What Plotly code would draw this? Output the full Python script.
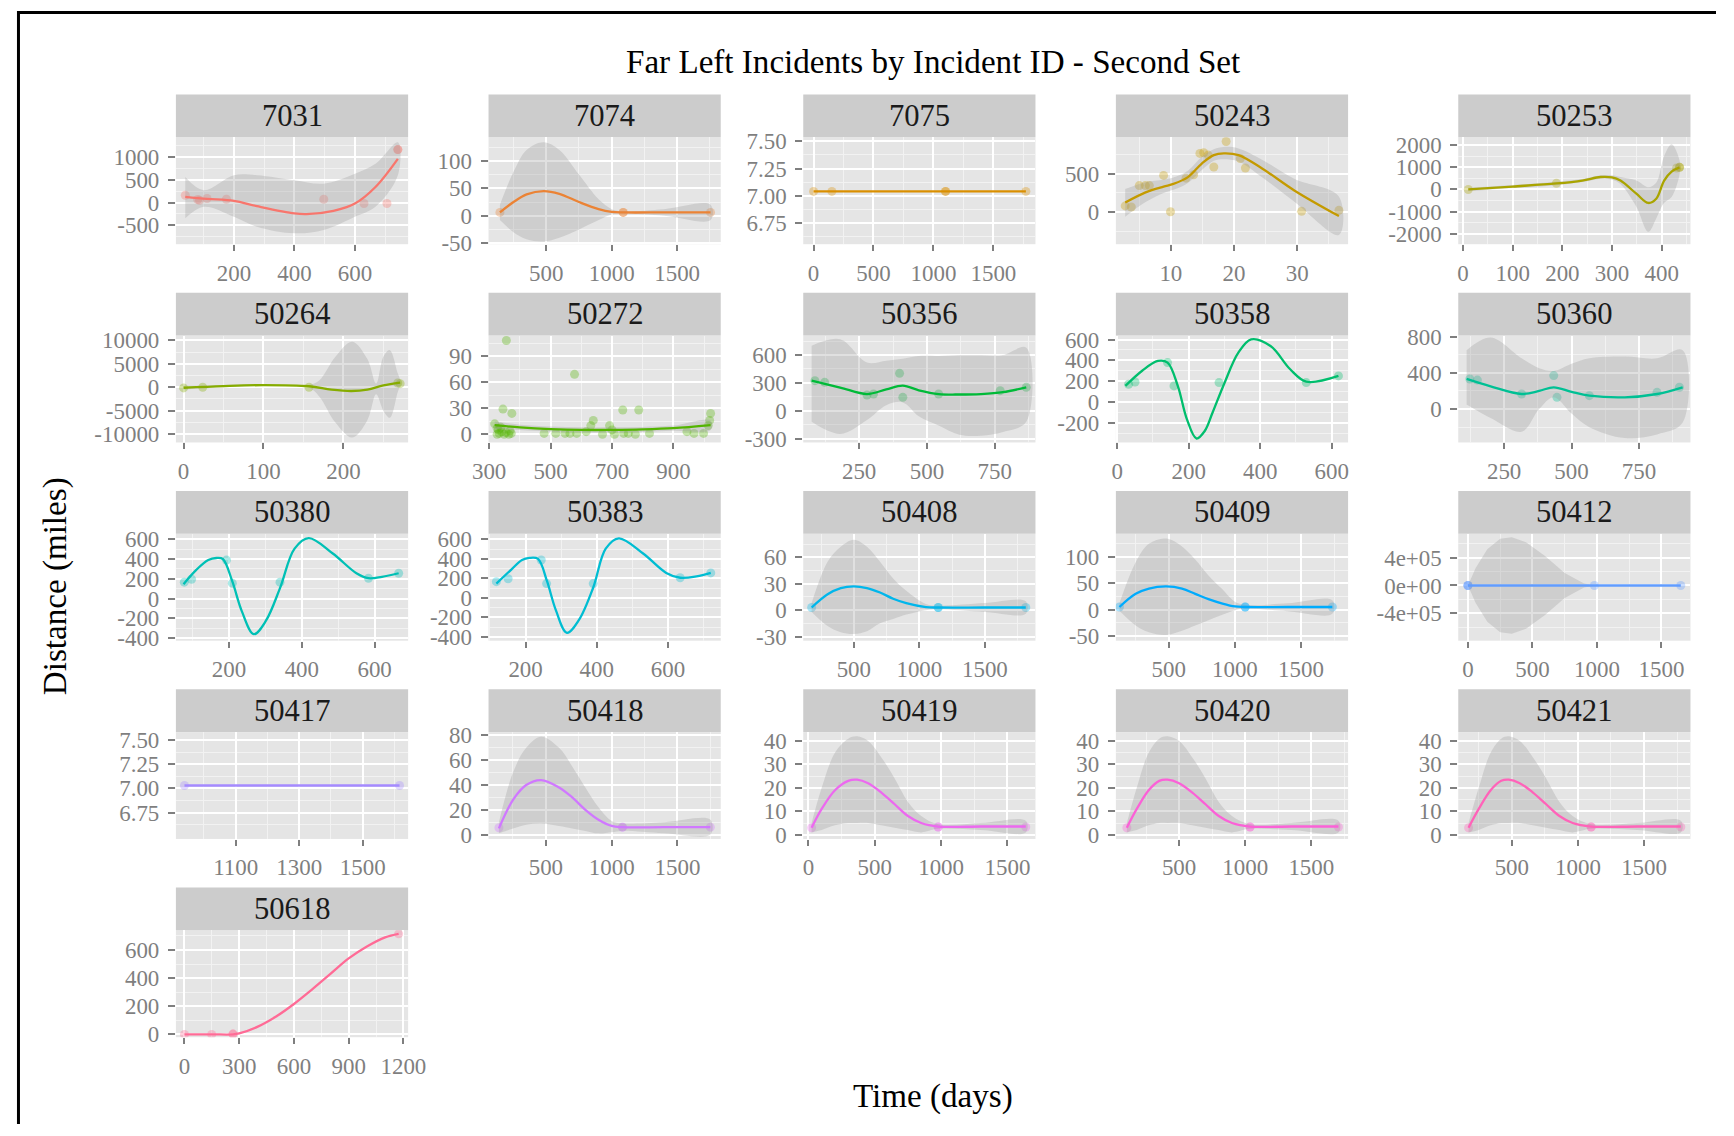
import math
import plotly.graph_objects as go

W, H = 1734, 1136

incident_ids = ["7031", "7074", "7075", "50243", "50253", "50264", "50272", "50356",
                "50358", "50360", "50380", "50383", "50408", "50409", "50412", "50417",
                "50418", "50419", "50420", "50421", "50618"]

# ---------------- 7031
pts_7031_t = [39, 80, 86, 111, 175, 497, 630, 706, 742, 742]
pts_7031_d = [160, 66, 51, 88, 73, 73, -22, -22, 1168, 1168]
fit_7031_t = [39, 111, 200, 276, 400, 440, 529, 600, 668, 742]
fit_7031_d = [124, 80, 36, -80, -240, -255, -182, -22, 343, 964]
band_7031_t = [39, 100, 200, 276, 400, 497, 600, 668, 742]
band_7031_hi = [562, 270, 600, 600, 490, 416, 635, 854, 1330]
band_7031_lo = [-350, -95, -314, -533, -679, -606, -314, -95, 600]

# ---------------- 7074
pts_7074_t = [146, 1088, 1088, 1755]
pts_7074_d = [6, 6, 6, 6]
fit_7074_t = [146, 250, 350, 480, 600, 750, 900, 1000, 1088, 1400, 1755]
fit_7074_d = [6, 25, 39, 45, 40, 25, 12, 7, 6, 6, 6]
band_7074_hi = [20, 80, 120, 134, 120, 75, 30, 12, 8, 12, 20]
band_7074_lo = [-8, -30, -43, -47, -40, -25, -8, 2, 4, 0, -8]

# ---------------- 7075
pts_7075_t = [0, 153, 1101, 1101, 1771]
pts_7075_d = [7.04, 7.04, 7.04, 7.04, 7.04]
fit_7075_t = [0, 1771]
fit_7075_d = [7.04, 7.04]

# ---------------- 50243
pts_50243_t = [2.78, 3.74, 5.0, 5.97, 6.6, 8.85, 9.94, 12.4, 13.6, 14.6, 15.2, 15.9, 16.8, 18.75, 21.0, 21.8, 30.7, 36.6]
pts_50243_d = [80, 66, 345, 345, 345, 478, 4, 442, 487, 765, 774, 743, 588, 920, 699, 575, 9, 22]
fit_50243_t = [2.78, 6, 8.85, 10.4, 12.7, 14.9, 16.8, 18.4, 20.7, 24.5, 29.6, 36.6]
fit_50243_d = [124, 257, 332, 367, 456, 633, 743, 765, 743, 566, 279, -53]
band_50243_hi = [300, 390, 420, 450, 540, 720, 820, 850, 830, 680, 430, 200]
band_50243_lo = [-60, 130, 250, 290, 380, 550, 670, 690, 660, 450, 130, -300]

# ---------------- 50253
pts_50253_t = [10.5, 188, 430, 436, 436]
pts_50253_d = [0, 281, 963, 993, 993]
fit_50253_t = [10.5, 100, 188, 240, 277, 300, 317, 349, 373, 389, 405, 420, 436]
fit_50253_d = [0, 130, 270, 400, 560, 540, 400, -190, -607, -415, 400, 800, 990]
band_50253_hi = [80, 200, 350, 470, 640, 640, 560, 400, 100, 300, 1500, 2030, 1300]
band_50253_lo = [-80, 60, 190, 330, 480, 440, 240, -780, -1900, -1300, -600, -340, 680]

# ---------------- 50264
pts_50264_t = [0, 24, 157, 268, 271]
pts_50264_d = [-140, 0, 0, 912, 770]
fit_50264_t = [0, 50, 100, 157, 185, 210, 230, 250, 271]
fit_50264_d = [-100, 250, 450, 210, -500, -800, -500, 400, 1000]
band_50264_t = [0, 50, 100, 157, 170, 190, 211, 230, 241, 250, 258, 268, 271]
band_50264_hi = [300, 500, 650, 500, 1500, 6500, 9700, 6000, 800, 6500, 7900, 3000, 1500]
band_50264_lo = [-500, 0, 250, -100, -2000, -7500, -10700, -7000, -1500, -5000, -6500, -1000, 500]

# ---------------- 50272
pts_50272_t = [318, 326, 326, 333, 341, 349, 364, 372, 345, 356, 374, 479, 517, 547, 563, 578, 585,
               616, 631, 639, 669, 692, 700, 708, 735, 738, 753, 776, 787, 822, 944, 967, 998, 1013,
               1018, 1021, 330, 338, 355, 368]
pts_50272_d = [12, 7, 0, 1, 3, 0, 0, 1, 29, 108, 24, 1, 1, 1, 1, 69, 1,
               3, 10, 16, 0, 10, 5, 0, 28, 1, 1, 0, 28, 1, 3, 1, 1, 10,
               16, 24, 5, 8, 2, 4]
fit_50272_t = [318, 400, 500, 600, 700, 800, 900, 1021]
fit_50272_d = [10.5, 8, 6, 5, 5, 5.6, 7, 10.5]
band_50272_hi = [15, 11, 9, 8, 8, 8.5, 10, 16]
band_50272_lo = [6, 5, 3, 2, 2, 2.7, 4, 5]

# ---------------- 50356
pts_50356_t = [87, 123, 279, 303, 399, 411, 543, 770, 866]
pts_50356_d = [324, 306, 169, 180, 403, 144, 180, 216, 252]
fit_50356_t = [75, 180, 279, 350, 411, 470, 543, 620, 699, 780, 866]
fit_50356_d = [324, 250, 180, 230, 270, 220, 180, 175, 180, 200, 252]
band_50356_hi = [700, 770, 520, 540, 560, 590, 590, 600, 600, 600, 680]
band_50356_lo = [-120, -250, -100, 60, 90, -60, -160, -260, -270, -230, -120]

# ---------------- 50358
pts_50358_t = [32, 50, 141, 159, 285, 529, 619]
pts_50358_d = [170, 192, 378, 154, 186, 186, 250]
fit_50358_t = [23, 70, 114, 141, 170, 195, 222, 245, 267, 300, 339, 375, 429, 484, 529, 619]
fit_50358_d = [154, 300, 394, 378, 150, -166, -352, -280, -102, 180, 474, 602, 538, 314, 195, 250]

# ---------------- 50360
pts_50360_t = [123, 151, 315, 434, 446, 566, 817, 900]
pts_50360_d = [332, 320, 166, 369, 129, 148, 184, 240]
fit_50360_t = [111, 200, 315, 380, 434, 500, 566, 697, 817, 912]
fit_50360_d = [332, 250, 166, 200, 240, 190, 148, 129, 166, 240]
band_50360_hi = [650, 790, 560, 450, 420, 500, 560, 580, 560, 650]
band_50360_lo = [50, -100, -250, 0, 130, -50, -200, -320, -280, -150]

# ---------------- 50380
pts_50380_t = [77, 97, 193, 209, 340, 583, 666]
pts_50380_d = [166, 196, 389, 156, 166, 206, 256]
fit_50380_t = [75, 110, 143, 165, 183, 209, 235, 268, 301, 340, 380, 419, 485, 550, 583, 620, 666]
fit_50380_d = [146, 290, 389, 410, 400, 173, -126, -359, -226, 106, 505, 611, 455, 256, 206, 220, 256]

# ---------------- 50383
pts_50383_t = [118, 151, 244, 259, 390, 634, 720]
pts_50383_d = [166, 196, 389, 146, 146, 206, 256]
fit_50383_t = [118, 160, 190, 211, 235, 260, 285, 316, 350, 390, 425, 462, 530, 595, 634, 680, 720]
fit_50383_d = [146, 290, 389, 410, 400, 173, -126, -359, -226, 106, 505, 611, 455, 256, 206, 220, 256]

# ---------------- 50408
pts_50408_t = [178, 1144, 1144, 1812]
pts_50408_d = [3, 3, 3, 3]
fit_50408_t = [178, 300, 400, 500, 600, 700, 800, 900, 1050, 1144, 1500, 1812]
fit_50408_d = [3, 18, 25, 27, 25, 20, 13, 8, 3.5, 3, 3, 3]
band_50408_hi = [8, 55, 72, 80, 72, 55, 36, 22, 7, 5, 8, 10]
band_50408_lo = [-2, -18, -25, -27, -24, -15, -10, -5, 0, 1, -2, -4]

# ---------------- 50409
pts_50409_t = [127, 1078, 1078, 1737]
pts_50409_d = [5, 5, 5, 5]
fit_50409_t = [127, 250, 350, 480, 600, 700, 800, 900, 1000, 1078, 1400, 1737]
fit_50409_d = [5, 30, 40, 44, 40, 30, 20, 12, 6, 5, 5, 5]
band_50409_hi = [12, 90, 125, 135, 120, 95, 65, 40, 15, 9, 12, 18]
band_50409_lo = [-2, -30, -43, -48, -40, -30, -20, -10, -1, 2, -3, -8]

# ---------------- 50412
pts_50412_t = [0, 0, 0, 980, 1650]
pts_50412_d = [0, 0, 0, 0, 0]
fit_50412_t = [0, 980, 1650]
fit_50412_d = [0, 0, 0]
band_50412_t = [0, 60, 150, 250, 340, 450, 600, 750, 900, 980, 1650]
band_50412_hi = [0, 250000, 520000, 670000, 690000, 620000, 420000, 180000, 30000, 5000, 5000]
band_50412_lo = [0, -250000, -520000, -670000, -690000, -620000, -420000, -180000, -30000, -5000, -5000]

# ---------------- 50417
pts_50417_t = [939, 1616]
pts_50417_d = [7.03, 7.03]
fit_50417_t = [939, 1616]
fit_50417_d = [7.03, 7.03]

# ---------------- 50418
pts_50418_t = [143, 1082, 1082, 1750]
pts_50418_d = [5.5, 6, 6, 6]
fit_50418_t = [143, 250, 350, 464, 600, 700, 800, 900, 1000, 1082, 1400, 1750]
fit_50418_d = [5, 28, 40, 44, 38, 30, 20, 12, 7, 6, 6, 6]
band_50418_hi = [10, 50, 70, 79, 70, 55, 38, 22, 11, 9, 10, 12]
band_50418_lo = [1, 5, 8, 9, 7, 5, 3, 1, 2, 3, 1, 0]

# ---------------- 50419 / 50420 / 50421
pts_50419_t = [24, 978, 978, 1638]
pts_50420_t = [105, 1037, 1037, 1705]
pts_50421_t = [173, 1100, 1100, 1778]
pts_5042x_d = [3, 3.3, 3.3, 3.3]
fit_50419_t = [24, 100, 200, 300, 367, 450, 550, 650, 750, 850, 978, 1300, 1638]
fit_50420_t = [105, 180, 270, 350, 412, 500, 600, 700, 800, 900, 1037, 1350, 1705]
fit_50421_t = [173, 250, 340, 420, 476, 560, 660, 760, 860, 960, 1100, 1450, 1778]
fit_5042x_d = [3, 11, 19, 23, 23.5, 22, 18, 13, 8, 5, 3.5, 3.5, 3.5]
band_5042x_hi = [5, 20, 35, 41, 42, 40, 33, 24, 14, 8, 4.5, 5, 6]
band_5042x_lo = [1, 2, 4, 5, 5, 5, 4, 3, 2, 1, 2.5, 2, 1]

# ---------------- 50618
pts_50618_t = [0, 149, 266, 266, 1174]
pts_50618_d = [0, 0, 2, 2, 715]
fit_50618_t = [0, 150, 266, 300, 402, 500, 600, 700, 800, 900, 1000, 1100, 1174]
fit_50618_d = [0, 0, 0, 7, 55, 125, 216, 320, 430, 540, 625, 690, 715]

# ---------------- axis tick labels per panel
xticks = {
    "7031": [200, 400, 600], "7074": [500, 1000, 1500], "7075": [0, 500, 1000, 1500],
    "50243": [10, 20, 30], "50253": [0, 100, 200, 300, 400], "50264": [0, 100, 200],
    "50272": [300, 500, 700, 900], "50356": [250, 500, 750], "50358": [0, 200, 400, 600],
    "50360": [250, 500, 750], "50380": [200, 400, 600], "50383": [200, 400, 600],
    "50408": [500, 1000, 1500], "50409": [500, 1000, 1500], "50412": [0, 500, 1000, 1500],
    "50417": [1100, 1300, 1500], "50418": [500, 1000, 1500], "50419": [0, 500, 1000, 1500],
    "50420": [500, 1000, 1500], "50421": [500, 1000, 1500], "50618": [0, 300, 600, 900, 1200],
}
yticks = {
    "7031": [-500, 0, 500, 1000], "7074": [-50, 0, 50, 100], "7075": [6.75, 7.0, 7.25, 7.5],
    "50243": [0, 500], "50253": [-2000, -1000, 0, 1000, 2000],
    "50264": [-10000, -5000, 0, 5000, 10000], "50272": [0, 30, 60, 90],
    "50356": [-300, 0, 300, 600], "50358": [-200, 0, 200, 400, 600], "50360": [0, 400, 800],
    "50380": [-400, -200, 0, 200, 400, 600], "50383": [-400, -200, 0, 200, 400, 600],
    "50408": [-30, 0, 30, 60], "50409": [-50, 0, 50, 100], "50412": [-400000, 0, 400000],
    "50417": [6.75, 7.0, 7.25, 7.5], "50418": [0, 20, 40, 60, 80], "50419": [0, 10, 20, 30, 40],
    "50420": [0, 10, 20, 30, 40], "50421": [0, 10, 20, 30, 40], "50618": [0, 200, 400, 600],
}
ytick_text_special = {
    "7075": ["6.75", "7.00", "7.25", "7.50"],
    "50417": ["6.75", "7.00", "7.25", "7.50"],
    "50412": ["-4e+05", "0e+00", "4e+05"],
}

# axis ranges (layout)
xranges = {
    "7031": [8, 776], "7074": [59, 1833], "7075": [-86, 1851], "50243": [1.3, 38.05],
    "50253": [-9.7, 458], "50264": [-9.6, 281], "50272": [298, 1054], "50356": [44, 900],
    "50358": [-3.6, 646], "50360": [80, 941], "50380": [54, 692], "50383": [96, 748],
    "50408": [114, 1886], "50409": [100, 1856], "50412": [-75, 1725], "50417": [912, 1643],
    "50418": [64, 1829], "50419": [-39, 1711], "50420": [22, 1778], "50421": [95, 1851],
    "50618": [-47, 1226],
}
yranges = {
    "7031": [-920, 1438], "7074": [-52, 143], "7075": [6.555, 7.537], "50243": [-420, 975],
    "50253": [-2459, 2341], "50264": [-11750, 11000], "50272": [-9.4, 113.6],
    "50356": [-342, 810], "50358": [-390, 638], "50360": [-369, 811], "50380": [-425, 654],
    "50383": [-440, 657], "50408": [-34.7, 86.7], "50409": [-59, 144],
    "50412": [-790000, 739000], "50417": [6.48, 7.58], "50418": [-3.5, 82.7],
    "50419": [-1.8, 43.8], "50420": [-1.8, 43.8], "50421": [-1.8, 43.8], "50618": [-20, 740],
}

panels = {
    "7031": (pts_7031_t, pts_7031_d, fit_7031_t, fit_7031_d, band_7031_t, band_7031_lo, band_7031_hi),
    "7074": (pts_7074_t, pts_7074_d, fit_7074_t, fit_7074_d, fit_7074_t, band_7074_lo, band_7074_hi),
    "7075": (pts_7075_t, pts_7075_d, fit_7075_t, fit_7075_d, None, None, None),
    "50243": (pts_50243_t, pts_50243_d, fit_50243_t, fit_50243_d, fit_50243_t, band_50243_lo, band_50243_hi),
    "50253": (pts_50253_t, pts_50253_d, fit_50253_t, fit_50253_d, fit_50253_t, band_50253_lo, band_50253_hi),
    "50264": (pts_50264_t, pts_50264_d, fit_50264_t, fit_50264_d, band_50264_t, band_50264_lo, band_50264_hi),
    "50272": (pts_50272_t, pts_50272_d, fit_50272_t, fit_50272_d, fit_50272_t, band_50272_lo, band_50272_hi),
    "50356": (pts_50356_t, pts_50356_d, fit_50356_t, fit_50356_d, fit_50356_t, band_50356_lo, band_50356_hi),
    "50358": (pts_50358_t, pts_50358_d, fit_50358_t, fit_50358_d, None, None, None),
    "50360": (pts_50360_t, pts_50360_d, fit_50360_t, fit_50360_d, fit_50360_t, band_50360_lo, band_50360_hi),
    "50380": (pts_50380_t, pts_50380_d, fit_50380_t, fit_50380_d, None, None, None),
    "50383": (pts_50383_t, pts_50383_d, fit_50383_t, fit_50383_d, None, None, None),
    "50408": (pts_50408_t, pts_50408_d, fit_50408_t, fit_50408_d, fit_50408_t, band_50408_lo, band_50408_hi),
    "50409": (pts_50409_t, pts_50409_d, fit_50409_t, fit_50409_d, fit_50409_t, band_50409_lo, band_50409_hi),
    "50412": (pts_50412_t, pts_50412_d, fit_50412_t, fit_50412_d, band_50412_t, band_50412_lo, band_50412_hi),
    "50417": (pts_50417_t, pts_50417_d, fit_50417_t, fit_50417_d, None, None, None),
    "50418": (pts_50418_t, pts_50418_d, fit_50418_t, fit_50418_d, fit_50418_t, band_50418_lo, band_50418_hi),
    "50419": (pts_50419_t, pts_5042x_d, fit_50419_t, fit_5042x_d, fit_50419_t, band_5042x_lo, band_5042x_hi),
    "50420": (pts_50420_t, pts_5042x_d, fit_50420_t, fit_5042x_d, fit_50420_t, band_5042x_lo, band_5042x_hi),
    "50421": (pts_50421_t, pts_5042x_d, fit_50421_t, fit_5042x_d, fit_50421_t, band_5042x_lo, band_5042x_hi),
    "50618": (pts_50618_t, pts_50618_d, fit_50618_t, fit_50618_d, None, None, None),
}
straight = {"7075", "50417", "50412"}


def hue_color(h, c=100.0, l=65.0):
    Xn, Yn, Zn = 95.047, 100.0, 108.883
    den = Xn + 15 * Yn + 3 * Zn
    un, vn = 4 * Xn / den, 9 * Yn / den
    Y = Yn * ((l + 16) / 116) ** 3
    u, v = c * math.cos(math.radians(h)), c * math.sin(math.radians(h))
    up, vp = u / (13 * l) + un, v / (13 * l) + vn
    X = Y * 9 * up / (4 * vp)
    Z = Y * (12 - 3 * up - 20 * vp) / (4 * vp)
    X, Y, Z = X / 100, Y / 100, Z / 100
    rgb = [3.240479 * X - 1.537150 * Y - 0.498535 * Z,
           -0.969256 * X + 1.875992 * Y + 0.041556 * Z,
           0.055648 * X - 0.204043 * Y + 1.057311 * Z]
    out = []
    for t in rgb:
        t = 1.055 * t ** (1 / 2.4) - 0.055 if t > 0.0031308 else 12.92 * t
        out.append(int(round(255 * min(max(t, 0.0), 1.0))))
    return "rgb(%d,%d,%d)" % tuple(out)


def minor_vals(ticks, rng):
    step = ticks[1] - ticks[0]
    m = ticks[0] - step / 2
    while m - step >= rng[0]:
        m -= step
    vals = []
    while m <= rng[1]:
        if m >= rng[0]:
            vals.append(m)
        m += step
    return vals


def fmt(v):
    return str(int(v)) if float(v).is_integer() else str(v)


# The page is shown slightly shrunk and offset; target positions (in screen px)
# are mapped back to paper fractions.
OFF_X, OFF_Y, SCL = 14.5, 10.5, 0.981


def fx(px):
    return (px - OFF_X) / (SCL * W)


def fy(py):
    return 1 - (py - OFF_Y) / (SCL * H)


def fs(size):
    return size / SCL


fig = go.Figure()

col_left = [173.6, 486.6, 801.7, 1114.7, 1457.5]
panel_w = 232.5
row_step = 198.5
strip_top0, panel_top0, panel_bot0 = 94.0, 137.0, 244.0

TICK_FONT = dict(family="Liberation Serif", size=fs(22.5), color="#7F7F7F")
shapes = []
annotations = []
layout_axes = {}
n = len(incident_ids)
for i, pid in enumerate(incident_ids):
    k = i + 1
    sfx = "" if k == 1 else str(k)
    col, row = i % 5, i // 5
    x0 = col_left[col]
    x1 = x0 + panel_w
    pt = panel_top0 + row * row_step
    pb = panel_bot0 + row * row_step
    st = strip_top0 + row * row_step
    color = hue_color(15 + i * 360.0 / n)
    pts_t, pts_d, fit_t, fit_d, band_t, band_lo, band_hi = panels[pid]
    shape = "linear" if pid in straight else "spline"

    fig.add_trace(go.Scatter(x=pts_t, y=pts_d, mode="markers", xaxis="x" + sfx, yaxis="y" + sfx,
                             marker=dict(color=color, size=9, opacity=0.33, line=dict(width=0)),
                             hoverinfo="skip", showlegend=False))
    if band_t is not None:
        fig.add_trace(go.Scatter(x=list(band_t) + list(band_t)[::-1],
                                 y=list(band_hi) + list(band_lo)[::-1],
                                 mode="lines", fill="toself", xaxis="x" + sfx, yaxis="y" + sfx,
                                 fillcolor="rgba(153,153,153,0.3)",
                                 line=dict(width=0, shape=shape, smoothing=1.0),
                                 hoverinfo="skip", showlegend=False))
    fig.add_trace(go.Scatter(x=fit_t, y=fit_d, mode="lines", xaxis="x" + sfx, yaxis="y" + sfx,
                             line=dict(color=color, width=2.3, shape=shape, smoothing=1.0),
                             hoverinfo="skip", showlegend=False))

    xt = xticks[pid]
    yt = yticks[pid]
    ytxt = ytick_text_special.get(pid, [fmt(v) for v in yt])
    layout_axes["xaxis" + sfx] = dict(
        domain=[fx(x0), fx(x1)], anchor="y" + sfx, range=xranges[pid],
        tickmode="array", tickvals=xt, ticktext=[fmt(v) for v in xt],
        ticks="outside", ticklen=6, tickwidth=1.5, tickcolor="#7F7F7F",
        ticklabelstandoff=2,
        tickfont=TICK_FONT, showgrid=True, gridcolor="white", gridwidth=1.6,
        zeroline=False, showline=False,
        minor=dict(tickmode="array", tickvals=minor_vals(xt, xranges[pid]), showgrid=True,
                   gridcolor="#F2F2F2", gridwidth=0.9, ticks=""),
    )
    layout_axes["yaxis" + sfx] = dict(
        domain=[fy(pb), fy(pt)], anchor="x" + sfx, range=yranges[pid],
        tickmode="array", tickvals=yt, ticktext=ytxt,
        ticks="outside", ticklen=7, tickwidth=1.5, tickcolor="#7F7F7F",
        ticklabelstandoff=4,
        tickfont=TICK_FONT, showgrid=True, gridcolor="white", gridwidth=1.6,
        zeroline=False, showline=False,
        minor=dict(tickmode="array", tickvals=minor_vals(yt, yranges[pid]), showgrid=True,
                   gridcolor="#F2F2F2", gridwidth=0.9, ticks=""),
    )
    shapes.append(dict(type="rect", xref="paper", yref="paper", x0=fx(x0), x1=fx(x1),
                       y0=fy(pt), y1=fy(st), fillcolor="#CCCCCC", line=dict(width=0),
                       layer="below"))
    annotations.append(dict(text=pid, xref="paper", yref="paper", x=fx((x0 + x1) / 2),
                            y=fy((st + pt) / 2), showarrow=False, xanchor="center",
                            yanchor="middle",
                            font=dict(family="Liberation Serif", size=fs(30), color="#1A1A1A")))

# frame lines (left and top edges)
shapes.append(dict(type="line", xref="paper", yref="paper", x0=0, x1=1, y0=1 - 1.5 / H,
                   y1=1 - 1.5 / H, line=dict(color="black", width=3)))
shapes.append(dict(type="line", xref="paper", yref="paper", x0=1.5 / W, x1=1.5 / W, y0=0,
                   y1=1, line=dict(color="black", width=3)))

annotations.append(dict(text="Far Left Incidents by Incident ID - Second Set", xref="paper",
                        yref="paper", x=fx(932), y=fy(61), showarrow=False,
                        xanchor="center", yanchor="middle",
                        font=dict(family="Liberation Serif", size=fs(32.5), color="black")))
annotations.append(dict(text="Time (days)", xref="paper", yref="paper", x=fx(932),
                        y=fy(1097), showarrow=False, xanchor="center", yanchor="middle",
                        font=dict(family="Liberation Serif", size=fs(32.5), color="black")))
annotations.append(dict(text="Distance (miles)", xref="paper", yref="paper", x=fx(52),
                        y=fy(586), showarrow=False, xanchor="center", yanchor="middle",
                        textangle=-90,
                        font=dict(family="Liberation Serif", size=fs(32.5), color="black")))

fig.update_layout(
    width=W, height=H, autosize=False, margin=dict(l=0, r=0, t=0, b=0, pad=0),
    paper_bgcolor="white", plot_bgcolor="#E5E5E5",
    showlegend=False, hovermode=False,
    shapes=shapes, annotations=annotations,
    **layout_axes,
)

fig.write_html(
    "out.html",
    config={"responsive": False, "displayModeBar": False},
    post_script=("document.documentElement.style.margin='0';"
                 "document.documentElement.style.overflow='hidden';"
                 "document.body.style.margin='0';document.body.style.padding='0';"
                 "document.body.style.overflow='hidden';"),
)
